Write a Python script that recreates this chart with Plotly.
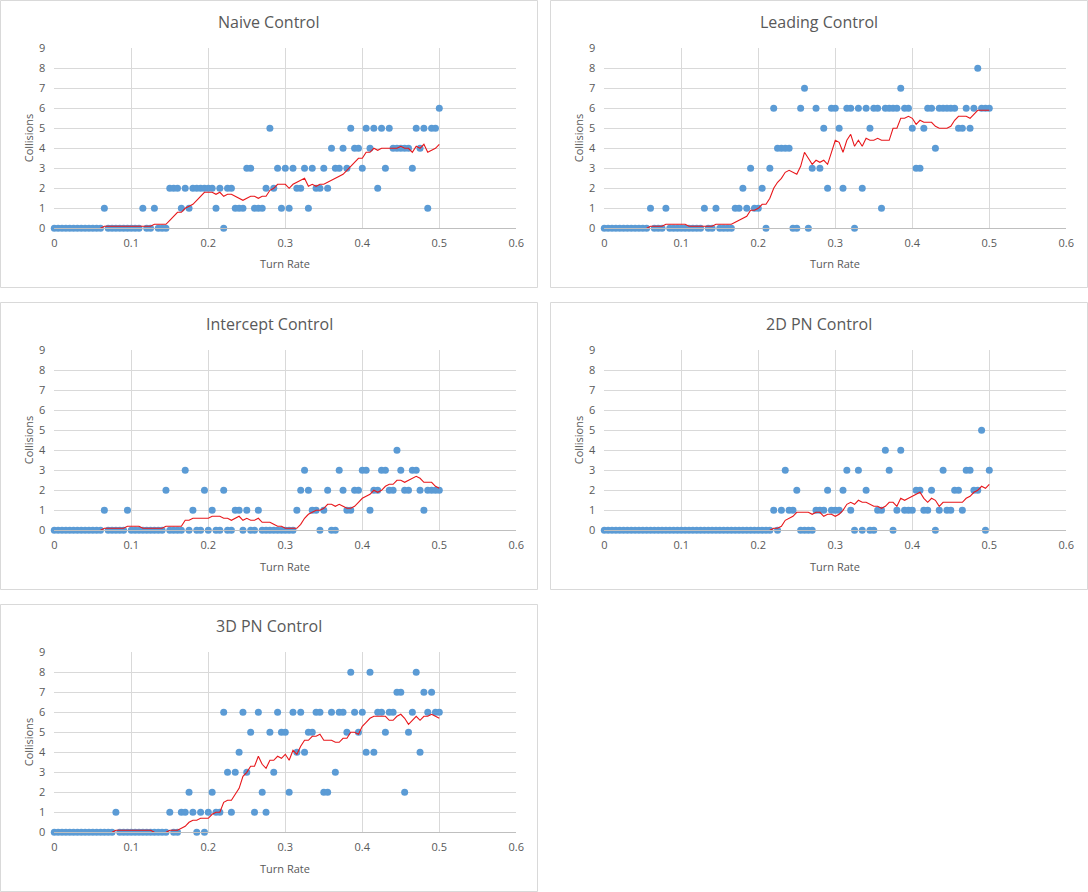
import plotly.graph_objects as go

# ---------------- data ----------------
TURN_RATE = [0.0, 0.005, 0.01, 0.015, 0.02, 0.025, 0.03, 0.035, 0.04, 0.045,
             0.05, 0.055, 0.06, 0.065, 0.07, 0.075, 0.08, 0.085, 0.09, 0.095,
             0.1, 0.105, 0.11, 0.115, 0.12, 0.125, 0.13, 0.135, 0.14, 0.145,
             0.15, 0.155, 0.16, 0.165, 0.17, 0.175, 0.18, 0.185, 0.19, 0.195,
             0.2, 0.205, 0.21, 0.215, 0.22, 0.225, 0.23, 0.235, 0.24, 0.245,
             0.25, 0.255, 0.26, 0.265, 0.27, 0.275, 0.28, 0.285, 0.29, 0.295,
             0.3, 0.305, 0.31, 0.315, 0.32, 0.325, 0.33, 0.335, 0.34, 0.345,
             0.35, 0.355, 0.36, 0.365, 0.37, 0.375, 0.38, 0.385, 0.39, 0.395,
             0.4, 0.405, 0.41, 0.415, 0.42, 0.425, 0.43, 0.435, 0.44, 0.445,
             0.45, 0.455, 0.46, 0.465, 0.47, 0.475, 0.48, 0.485, 0.49, 0.495,
             0.5]

NAIVE = [0, 0, 0, 0, 0, 0, 0, 0, 0, 0,
         0, 0, 0, 1, 0, 0, 0, 0, 0, 0,
         0, 0, 0, 1, 0, 0, 1, 0, 0, 0,
         2, 2, 2, 1, 2, 1, 2, 2, 2, 2,
         2, 2, 1, 2, 0, 2, 2, 1, 1, 1,
         3, 3, 1, 1, 1, 2, 5, 2, 3, 1,
         3, 1, 3, 2, 2, 3, 1, 3, 2, 2,
         3, 2, 4, 3, 3, 4, 3, 5, 4, 4,
         3, 5, 4, 5, 2, 5, 3, 5, 4, 4,
         4, 4, 4, 3, 5, 4, 5, 1, 5, 5,
         6]

LEADING = [0, 0, 0, 0, 0, 0, 0, 0, 0, 0,
           0, 0, 1, 0, 0, 0, 1, 0, 0, 0,
           0, 0, 0, 0, 0, 0, 1, 0, 0, 1,
           0, 0, 0, 0, 1, 1, 2, 1, 3, 1,
           1, 2, 0, 3, 6, 4, 4, 4, 4, 0,
           0, 6, 7, 0, 3, 6, 3, 5, 2, 6,
           6, 5, 2, 6, 6, 0, 6, 2, 6, 5,
           6, 6, 1, 6, 6, 6, 6, 7, 6, 6,
           5, 3, 3, 5, 6, 6, 4, 6, 6, 6,
           6, 6, 5, 5, 6, 5, 6, 8, 6, 6,
           6]

INTERCEPT = [0, 0, 0, 0, 0, 0, 0, 0, 0, 0,
             0, 0, 0, 1, 0, 0, 0, 0, 0, 1,
             0, 0, 0, 0, 0, 0, 0, 0, 0, 2,
             0, 0, 0, 0, 3, 0, 1, 0, 0, 2,
             0, 1, 0, 0, 2, 0, 0, 1, 1, 0,
             1, 0, 0, 1, 0, 0, 0, 0, 0, 0,
             0, 0, 0, 1, 2, 3, 2, 1, 1, 0,
             1, 2, 0, 0, 3, 2, 1, 1, 2, 2,
             3, 3, 1, 2, 2, 3, 3, 2, 2, 4,
             3, 2, 2, 3, 3, 2, 1, 2, 2, 2,
             2]

PN_2D = [0, 0, 0, 0, 0, 0, 0, 0, 0, 0,
         0, 0, 0, 0, 0, 0, 0, 0, 0, 0,
         0, 0, 0, 0, 0, 0, 0, 0, 0, 0,
         0, 0, 0, 0, 0, 0, 0, 0, 0, 0,
         0, 0, 0, 0, 1, 0, 1, 3, 1, 1,
         2, 0, 0, 0, 0, 1, 1, 1, 2, 1,
         1, 1, 2, 3, 1, 0, 3, 0, 2, 0,
         0, 1, 1, 4, 3, 0, 1, 4, 1, 1,
         1, 2, 2, 1, 1, 2, 0, 1, 3, 1,
         1, 2, 2, 1, 3, 3, 2, 2, 5, 0,
         3]

PN_3D = [0, 0, 0, 0, 0, 0, 0, 0, 0, 0,
         0, 0, 0, 0, 0, 0, 1, 0, 0, 0,
         0, 0, 0, 0, 0, 0, 0, 0, 0, 0,
         1, 0, 0, 1, 1, 2, 1, 0, 1, 0,
         1, 2, 1, 1, 6, 3, 1, 3, 4, 6,
         3, 5, 1, 6, 2, 1, 5, 3, 6, 5,
         5, 2, 6, 4, 6, 4, 5, 5, 6, 6,
         2, 2, 6, 3, 6, 6, 5, 8, 6, 5,
         6, 4, 8, 4, 6, 6, 5, 6, 6, 7,
         7, 2, 5, 6, 8, 4, 7, 6, 7, 6,
         6]

TITLES = ["Naive Control", "Leading Control", "Intercept Control",
          "2D PN Control", "3D PN Control"]
SERIES = [NAIVE, LEADING, INTERCEPT, PN_2D, PN_3D]

X_TICKS = [0, 0.1, 0.2, 0.3, 0.4, 0.5, 0.6]
X_TICK_LABELS = ["0", "0.1", "0.2", "0.3", "0.4", "0.5", "0.6"]
Y_TICKS = [0, 1, 2, 3, 4, 5, 6, 7, 8, 9]
X_TITLE = "Turn Rate"
Y_TITLE = "Collisions"
MA_PERIOD = 10


def moving_average(vals, n):
    ma = [None] * len(vals)
    for i in range(n - 1, len(vals)):
        ma[i] = sum(vals[i - n + 1:i + 1]) / n
    # stretches lying on the zero axis are hidden by the axis in the original
    shown = []
    for i, v in enumerate(ma):
        if v is None:
            shown.append(None)
            continue
        if v == 0:
            prev = ma[i - 1] if i > 0 else None
            nxt = ma[i + 1] if i + 1 < len(ma) else None
            if not ((prev or 0) > 0 or (nxt or 0) > 0):
                shown.append(None)
                continue
        shown.append(v)
    return shown


# ---------------- layout geometry (pixels) ----------------
W, H = 1088, 892
PLOT_X = [(54.3, 516.3), (604.3, 1066.3)]
PLOT_Y = [(48.3, 228.3), (350.3, 530.3), (652.3, 832.3)]
BOX_X = [(0, 538), (550, 1088)]
BOX_Y = [(0, 288), (302, 590), (604, 892)]

FONT = "Open Sans"
TXT = "#595959"
GRID = "#D9D9D9"

fig = go.Figure()
annotations = []
shapes = []

for k, (title, vals) in enumerate(zip(TITLES, SERIES)):
    r, c = divmod(k, 2)
    n = k + 1
    xa = "x" if n == 1 else f"x{n}"
    ya = "y" if n == 1 else f"y{n}"

    fig.add_trace(go.Scatter(
        x=TURN_RATE, y=vals, mode="markers", xaxis=xa, yaxis=ya,
        marker=dict(color="#5B9BD5", size=7, line=dict(width=0)),
        cliponaxis=False, showlegend=False, hoverinfo="x+y"))
    fig.add_trace(go.Scatter(
        x=TURN_RATE, y=moving_average(vals, MA_PERIOD), mode="lines",
        xaxis=xa, yaxis=ya, line=dict(color="#E8171B", width=1.1),
        connectgaps=False, showlegend=False, hoverinfo="skip"))

    x0, x1 = PLOT_X[c]
    y0, y1 = PLOT_Y[r]
    xkey = "xaxis" if n == 1 else f"xaxis{n}"
    ykey = "yaxis" if n == 1 else f"yaxis{n}"
    fig.update_layout(**{
        xkey: dict(domain=[x0 / W, x1 / W], anchor=ya, range=[0, 0.6],
                   tickvals=X_TICKS, ticktext=X_TICK_LABELS,
                   showgrid=True, gridcolor=GRID, gridwidth=1,
                   zeroline=False, showline=True, linecolor="#BFBFBF",
                   linewidth=1, ticks="", automargin=False,
                   ticklabelstandoff=4,
                   tickfont=dict(family=FONT, size=11, color=TXT),
                   fixedrange=True),
        ykey: dict(domain=[1 - y1 / H, 1 - y0 / H], anchor=xa, range=[0, 9],
                   tickvals=Y_TICKS, showgrid=True, gridcolor=GRID,
                   gridwidth=1, zeroline=False, showline=False, ticks="",
                   automargin=False, ticklabelstandoff=8,
                   tickfont=dict(family=FONT, size=11, color=TXT),
                   fixedrange=True),
    })

    bx0, bx1 = BOX_X[c]
    by0, by1 = BOX_Y[r]
    shapes.append(dict(type="rect", xref="paper", yref="paper",
                       x0=(bx0 + 0.5) / W, x1=(bx1 - 0.5) / W,
                       y0=1 - (by1 - 0.5) / H, y1=1 - (by0 + 0.5) / H,
                       line=dict(color=GRID, width=1), layer="below"))

    annotations.append(dict(text=title, xref="paper", yref="paper",
                            x=(bx0 + bx1) / 2 / W, y=1 - (by0 + 22) / H,
                            xanchor="center", yanchor="middle", showarrow=False,
                            font=dict(family=FONT, size=16, color=TXT)))
    annotations.append(dict(text=X_TITLE, xref="paper", yref="paper",
                            x=(x0 + x1) / 2 / W, y=1 - (by0 + 264) / H,
                            xanchor="center", yanchor="middle", showarrow=False,
                            font=dict(family=FONT, size=11, color=TXT)))
    annotations.append(dict(text=Y_TITLE, xref="paper", yref="paper",
                            x=(bx0 + 28) / W, y=1 - (y0 + y1) / 2 / H,
                            xanchor="center", yanchor="middle", showarrow=False,
                            textangle=-90,
                            font=dict(family=FONT, size=11, color=TXT)))

fig.update_layout(width=W, height=H, autosize=False,
                  margin=dict(l=0, r=0, t=0, b=0),
                  paper_bgcolor="white", plot_bgcolor="white",
                  annotations=annotations, shapes=shapes,
                  showlegend=False)

fig.write_html("out.html")
